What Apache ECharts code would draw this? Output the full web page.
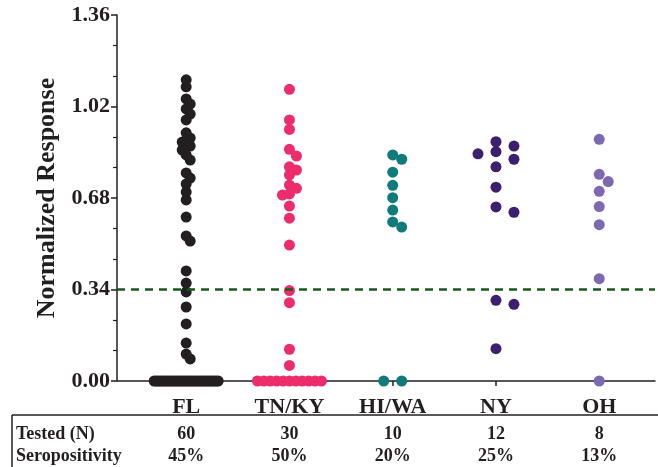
<!DOCTYPE html>
<html>
<head>
<meta charset="utf-8">
<script src="https://cdn.jsdelivr.net/npm/echarts@6/dist/echarts.min.js"></script>
<style>
  html, body { margin: 0; padding: 0; background: #ffffff; }
  #chart { width: 658px; height: 467px; }
</style>
</head>
<body>
<div id="chart"></div>
<script>
// Groups along the x axis and the summary rows printed under them
const groups = ['FL', 'TN/KY', 'HI/WA', 'NY', 'OH'];
const testedN = ['60', '30', '10', '12', '8'];
const seropositivity = ['45%', '50%', '20%', '25%', '13%'];

// y axis ticks and the positivity cutoff
const yTicks = [0, 0.34, 0.68, 1.02, 1.36];
const cutoff = 0.34;

// Normalized responses per group
const flValues = [
  1.119, 1.093, 1.048, 1.029, 1.011, 0.992, 0.970, 0.922, 0.903, 0.888,
  0.873, 0.858, 0.840, 0.821, 0.773, 0.754, 0.732, 0.702, 0.673, 0.609,
  0.539, 0.520, 0.409, 0.364, 0.331, 0.275, 0.212, 0.141, 0.100, 0.082,
  0, 0, 0, 0, 0, 0, 0, 0, 0, 0,
  0, 0, 0, 0, 0, 0, 0, 0, 0, 0,
  0, 0, 0, 0, 0, 0, 0, 0, 0, 0
];
const tnkyValues = [
  1.084, 0.970, 0.935, 0.861, 0.836, 0.796, 0.784, 0.766, 0.728, 0.716,
  0.695, 0.691, 0.650, 0.605, 0.505, 0.336, 0.291, 0.118, 0.058,
  0, 0, 0, 0, 0, 0, 0, 0, 0, 0, 0
];
const hiwaValues = [0.840, 0.824, 0.776, 0.727, 0.681, 0.635, 0.591, 0.572, 0, 0];
const nyValues = [0.889, 0.873, 0.852, 0.844, 0.824, 0.796, 0.720, 0.647, 0.627, 0.300, 0.285, 0.120];
const ohValues = [0.898, 0.768, 0.741, 0.705, 0.648, 0.581, 0.380, 0];

const groupValues = [flValues, tnkyValues, hiwaValues, nyValues, ohValues];

// Styling per group
const colors = ['#231f20', '#ec2c6b', '#0f7b7a', '#3d1f70', '#7c69b2'];
const swarmStep = [4, 7, 9, 18, 9];
const swarmMinDist = [6, 7, 9, 9, 9];
const dotSize = 11;
const FONT = '"Liberation Serif", "Times New Roman", serif';
const INK = '#231f20';

// Spread dots sideways (in pixels) so they stay readable.
// Identical values become a compressed horizontal row.
function swarmOffsets(values, pxPerUnit, step, minDist, rowWidth) {
  const offsets = new Array(values.length).fill(0);
  const placed = [];
  const counts = {};
  values.forEach(v => { counts[v] = (counts[v] || 0) + 1; });
  Object.keys(counts).forEach(key => {
    const n = counts[key];
    if (n < 2) return;
    const gap = Math.min(18, rowWidth / (n - 1));
    let j = 0;
    values.forEach((v, i) => {
      if (String(v) === key) {
        offsets[i] = (j - (n - 1) / 2) * gap;
        placed.push({ x: offsets[i], y: v * pxPerUnit });
        j++;
      }
    });
  });
  const order = values.map((v, i) => i)
    .filter(i => counts[values[i]] < 2)
    .sort((a, b) => values[b] - values[a]);
  order.forEach(i => {
    const y = values[i] * pxPerUnit;
    for (let k = 0; k < 40; k++) {
      const m = k === 0 ? 0 : (k % 2 === 1 ? (k + 1) / 2 : -k / 2);
      const dx = m * step;
      const clear = placed.every(p => Math.hypot(p.x - dx, p.y - y) >= minDist);
      if (clear) {
        offsets[i] = dx;
        placed.push({ x: dx, y: y });
        break;
      }
    }
  });
  return offsets;
}

const chart = echarts.init(document.getElementById('chart'), null, { renderer: 'canvas' });

const categoryIdx = groups.map((g, i) => i);
const xMin = -0.67, xMax = 4.54;

function buildSeries(offsetsPerGroup) {
  const series = groupValues.map((vals, gi) => ({
    type: 'scatter',
    name: groups[gi],
    symbol: 'circle',
    symbolSize: dotSize,
    itemStyle: { color: colors[gi], opacity: 1 },
    z: 3,
    clip: false,
    data: vals.map((v, i) => ({
      value: [gi, v],
      symbolOffset: [offsetsPerGroup ? offsetsPerGroup[gi][i] : 0, 0]
    }))
  }));
  // dashed cutoff line drawn above the dots
  series.push({
    type: 'line',
    data: [],
    z: 5,
    markLine: {
      silent: true,
      symbol: 'none',
      label: { show: false },
      lineStyle: { color: '#17591c', width: 2.5, type: [8, 6] },
      data: [{ yAxis: cutoff }]
    }
  });
  return series;
}

function tableAxis(labels, offset) {
  return {
    type: 'value', position: 'bottom', min: xMin, max: xMax, offset: offset,
    axisLine: { show: false }, axisTick: { show: false }, splitLine: { show: false },
    axisLabel: {
      customValues: categoryIdx, margin: 0,
      fontFamily: FONT, fontWeight: 'bold', fontSize: 18, color: INK,
      formatter: v => labels[Math.round(v)] || ''
    }
  };
}

const option = {
  animation: false,
  backgroundColor: '#ffffff',
  grid: { left: 117, right: 3, top: 15, bottom: 86, containLabel: false },
  xAxis: [
    {
      type: 'value', min: xMin, max: xMax,
      axisLine: { show: true, onZero: false, lineStyle: { color: INK, width: 1.5 } },
      axisTick: { show: true, customValues: categoryIdx, length: 5, lineStyle: { color: INK, width: 1.5 } },
      splitLine: { show: false },
      axisLabel: {
        customValues: categoryIdx, margin: 15,
        fontFamily: FONT, fontWeight: 'bold', fontSize: 22, color: INK,
        formatter: v => groups[Math.round(v)] || ''
      }
    },
    tableAxis(testedN, 44),
    tableAxis(seropositivity, 66)
  ],
  yAxis: {
    type: 'value', min: yTicks[0], max: yTicks[yTicks.length - 1], interval: yTicks[1] - yTicks[0],
    name: 'Normalized Response', nameLocation: 'middle', nameGap: 53,
    nameTextStyle: { fontFamily: FONT, fontWeight: 'bold', fontSize: 26, color: INK },
    axisLine: { show: true, onZero: false, lineStyle: { color: INK, width: 1.5 } },
    axisTick: { show: true, length: 6, lineStyle: { color: INK, width: 1.5 } },
    minorTick: { show: true, splitNumber: 3, length: 4, lineStyle: { color: INK, width: 1.2 } },
    splitLine: { show: false },
    axisLabel: {
      margin: 7, fontFamily: FONT, fontWeight: 'bold', fontSize: 22, color: INK,
      formatter: v => v.toFixed(2)
    }
  },
  graphic: [
    { type: 'line', shape: { x1: 12, y1: 415, x2: 658, y2: 415 }, style: { stroke: INK, lineWidth: 1.5 } },
    { type: 'line', shape: { x1: 12, y1: 415, x2: 12, y2: 467 }, style: { stroke: INK, lineWidth: 1.5 } },
    { type: 'text', left: 16, top: 425, style: { text: 'Tested (N)', fill: INK, font: 'bold 18px ' + FONT } },
    { type: 'text', left: 16, top: 447, style: { text: 'Seropositivity', fill: INK, font: 'bold 18px ' + FONT } }
  ],
  series: buildSeries(null)
};

chart.setOption(option);

// pixel scale of the value axis, then lay out the swarms
const pxPerUnit = chart.convertToPixel({ yAxisIndex: 0 }, 0) - chart.convertToPixel({ yAxisIndex: 0 }, 1);
const offsets = groupValues.map((vals, gi) => swarmOffsets(vals, pxPerUnit, swarmStep[gi], swarmMinDist[gi], 64));
chart.setOption({ series: buildSeries(offsets) });
</script>
</body>
</html>
